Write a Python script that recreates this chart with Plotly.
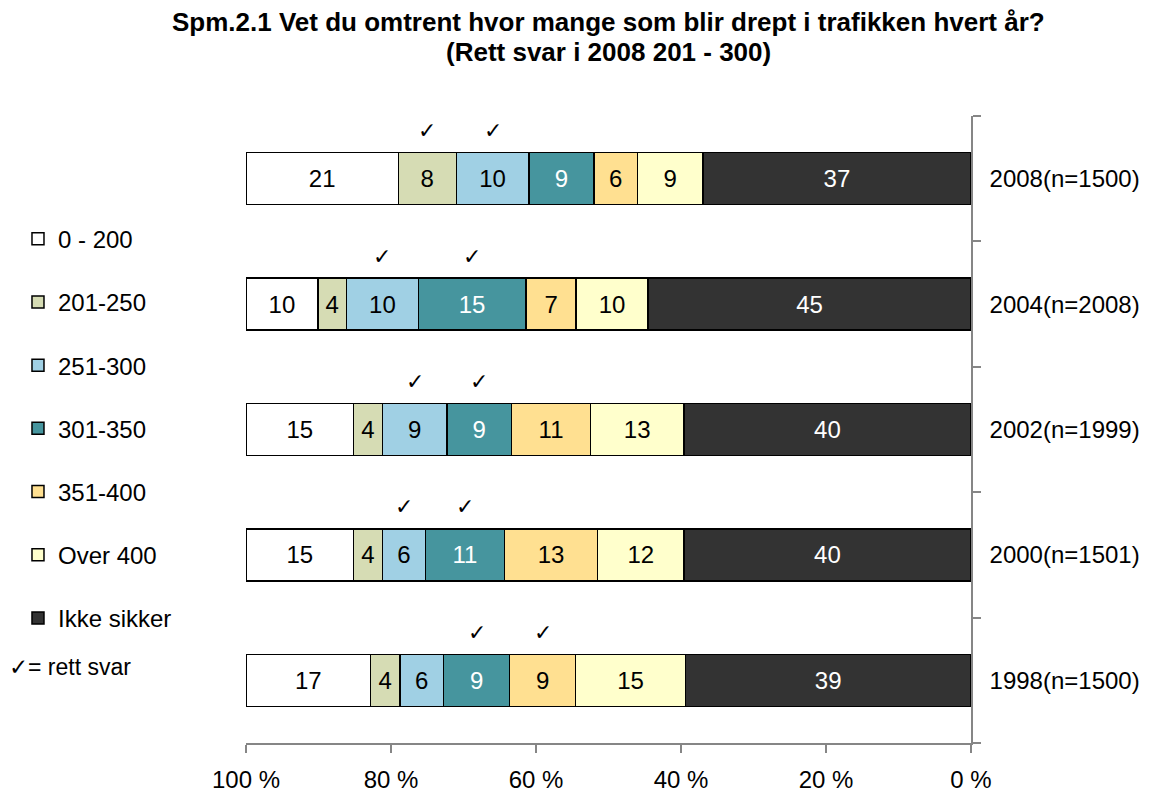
import plotly.graph_objects as go

years = ["1998(n=1500)", "2000(n=1501)", "2002(n=1999)", "2004(n=2008)", "2008(n=1500)"]
series_names = ["0 - 200", "201-250", "251-300", "301-350", "351-400", "Over 400", "Ikke sikker"]
v_0_200 = [17, 15, 15, 10, 21]
v_201_250 = [4, 4, 4, 4, 8]
v_251_300 = [6, 6, 9, 10, 10]
v_301_350 = [9, 11, 9, 15, 9]
v_351_400 = [9, 13, 11, 7, 6]
v_over_400 = [15, 12, 13, 10, 9]
v_ikke_sikker = [39, 40, 40, 45, 37]
# indices of series marked with a check (rett svar) per year
checked = [[3, 4], [2, 3], [2, 3], [2, 3], [1, 2]]
x_ticks = [0, 20, 40, 60, 80, 100]
x_ticktext = ["0 %", "20 %", "40 %", "60 %", "80 %", "100 %"]
title_lines = ["Spm.2.1 Vet du omtrent hvor mange som blir drept i trafikken hvert år?",
               "(Rett svar i 2008 201 - 300)"]

values = [v_0_200, v_201_250, v_251_300, v_301_350, v_351_400, v_over_400, v_ikke_sikker]
colors = ["#FFFFFF", "#D6DCB4", "#A0D0E4", "#46959E", "#FFE091", "#FFFFCC", "#333333"]
text_colors = ["black", "black", "black", "white", "black", "black", "white"]

FONT = "Liberation Sans, Arial, sans-serif"
W, H = 1148, 784
T, B = 108, 49
PH = H - T - B
fig = go.Figure()
# add in reverse so that "Ikke sikker" stacks from 0 (right side of reversed axis)
for k in reversed(range(len(series_names))):
    fig.add_trace(go.Bar(
        y=years, x=values[k], name=series_names[k], orientation="h",
        marker=dict(color=colors[k], line=dict(color="black", width=1.5)),
        text=[str(v) for v in values[k]], textposition="inside",
        insidetextanchor="middle", constraintext="none",
        textfont=dict(size=24, color=text_colors[k], family=FONT),
        legendgroup=series_names[k], legendrank=k + 1, hoverinfo="skip",
    ))

# check marks at segment centers
for i, yr in enumerate(years):
    vals = [values[k][i] for k in range(len(series_names))]
    tot = sum(vals)
    for k in checked[i]:
        after = sum(vals[k + 1:])
        center = (after + vals[k] / 2) / tot * 100
        fig.add_annotation(x=center, y=yr, yshift=48, text="✓", showarrow=False,
                           font=dict(size=22, color="black", family="DejaVu Sans"))

fig.add_annotation(xref="paper", yref="paper", x=-0.33, y=(743 - 667) / 627,
                   xanchor="left", yanchor="middle", showarrow=False,
                   text="✓= rett svar", font=dict(size=23, family=FONT, color="black"))

# title as two centered lines
for j, (line, ypx) in enumerate(zip(title_lines, [14, 44])):
    fig.add_annotation(xref="paper", yref="paper", x=(600 - 238) / (W - 238 - 185),
                       y=1 + (T - ypx) / PH, xanchor="center", yanchor="middle",
                       showarrow=False, text="<b>" + line + "</b>",
                       font=dict(size=26, family=FONT, color="black"))

fig.update_layout(
    width=W, height=H,
    margin=dict(l=238, r=185, t=T, b=B, autoexpand=False),
    paper_bgcolor="white", plot_bgcolor="white",
    barmode="stack", barnorm="percent", bargap=0.585,
    font=dict(family=FONT, size=24, color="black"),
    legend=dict(x=-0.3145, y=0.8395, xanchor="left", yanchor="top",
                traceorder="grouped", tracegroupgap=29,
                font=dict(size=24, family=FONT), bgcolor="rgba(0,0,0,0)"),
    showlegend=True,
)
fig.update_xaxes(range=[100, 0], tickmode="array", tickvals=x_ticks, ticktext=x_ticktext,
                 ticks="outside", ticklen=8, tickcolor="#868686", tickwidth=1.5,
                 showline=True, linecolor="#868686", linewidth=1.5, ticklabelstandoff=6,
                 showgrid=False, zeroline=False, tickfont=dict(size=24), automargin=False)
fig.update_yaxes(type="category", categoryorder="array", categoryarray=years,
                 range=[-0.5, 4.5], side="right", ticks="outside", tickson="boundaries",
                 ticklen=8, tickcolor="#868686", tickwidth=1.5,
                 showline=True, linecolor="#868686", linewidth=1.5,
                 showgrid=False, zeroline=False, tickfont=dict(size=24),
                 ticklabelstandoff=12, automargin=False)

fig.write_html("out.html")
